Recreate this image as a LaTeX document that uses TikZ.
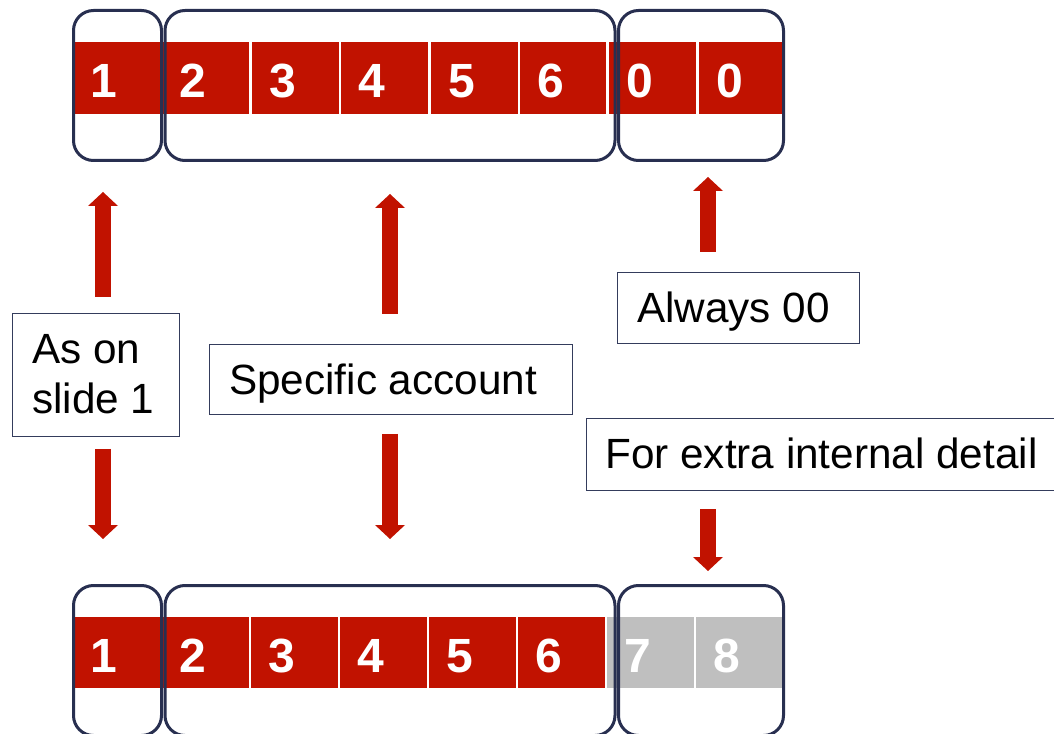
\documentclass[tikz,border=0pt]{standalone}
\usepackage{fontspec}
\setmainfont{Liberation Sans}
\usetikzlibrary{arrows.meta}
\definecolor{cred}{RGB}{193,18,0}
\definecolor{cgray}{RGB}{191,191,191}
\definecolor{cnavy}{RGB}{40,47,80}
\definecolor{lnavy}{RGB}{52,60,92}
\begin{document}
\begin{tikzpicture}[x=0.75pt,y=-0.75pt,
  digit/.style={text=white, font=\fontsize{36}{40}\selectfont\bfseries, inner sep=0pt, anchor=base},
  groupbox/.style={draw=cnavy, line width=2.25pt, rounded corners=15pt},
  labelbox/.style={draw=lnavy, line width=1.1pt, fill=white, inner sep=0pt, anchor=north west},
  labeltext/.style={font=\fontsize{31.7}{37.5}\selectfont, inner sep=0pt, anchor=base west, align=left},
  blockarrow/.style={draw=cred, line width=11.5pt, -{Triangle[width=22.5pt,length=10.5pt,line width=0pt]}}
]
\useasboundingbox (0,0) rectangle (1054,734);
\clip (0,0) rectangle (1054,734);

% top row of cells
\foreach \l/\r/\d/\n in {73/160/1/1,162/249/2/2,252/339/3/3,341/428/4/4,431/518/5/5,520/606/6/6,609/696/0/7,699/782/0/8}{
  \fill[cred] (\l,42) rectangle (\r,114);
  \node[digit] (td\n) at (\l+31,98) {\d};
}
% bottom row of cells
\foreach \l/\r/\d/\n/\c in {73/160/1/1/cred,162/249/2/2/cred,251/338/3/3/cred,340/427/4/4/cred,429/516/5/5/cred,518/605/6/6/cred,607/694/7/7/cgray,696/782/8/8/cgray}{
  \fill[\c] (\l,617) rectangle (\r,688);
  \node[digit] (bd\n) at (\l+31,672) {\d};
}

% group boxes
\draw[groupbox] (73.5,10.5) rectangle (161.5,160.5);
\draw[groupbox] (165,10.5) rectangle (615,160.5);
\draw[groupbox] (618.5,10.5) rectangle (783.5,160.5);
\draw[groupbox] (73.5,585.5) rectangle (161.5,735.5);
\draw[groupbox] (165,585.5) rectangle (615,735.5);
\draw[groupbox] (618.5,585.5) rectangle (783.5,735.5);

% label boxes
\node[labelbox, minimum width=125.25pt, minimum height=92.25pt] (lab1) at (12,313) {};
\node[labeltext] (lab1t) at (32,414) {As on\\slide 1};
\node[labelbox, minimum width=272.25pt, minimum height=52.5pt] (lab2) at (209,344) {};
\node[labeltext] (lab2t) at (229,394.5) {Specific account};
\node[labelbox, minimum width=181.5pt, minimum height=53.25pt] (lab3) at (617,272) {};
\node[labeltext] (lab3t) at (637,323) {Always 00};
\node[labelbox, minimum width=360pt, minimum height=54pt] (lab4) at (586,418) {};
\node[labeltext] (lab4t) at (605,469) {For extra internal detail};

% arrows
\coordinate (a1s) at (103,297); \coordinate (a1e) at (103,192);
\coordinate (a2s) at (103,449); \coordinate (a2e) at (103,539);
\coordinate (a3s) at (390,314); \coordinate (a3e) at (390,194);
\coordinate (a4s) at (390,434); \coordinate (a4e) at (390,539);
\coordinate (a5s) at (708,252); \coordinate (a5e) at (708,177);
\coordinate (a6s) at (708,509); \coordinate (a6e) at (708,571);
\draw[blockarrow] (a1s) -- (a1e);
\draw[blockarrow] (a2s) -- (a2e);
\draw[blockarrow] (a3s) -- (a3e);
\draw[blockarrow] (a4s) -- (a4e);
\draw[blockarrow] (a5s) -- (a5e);
\draw[blockarrow] (a6s) -- (a6e);
\end{tikzpicture}
\end{document}
